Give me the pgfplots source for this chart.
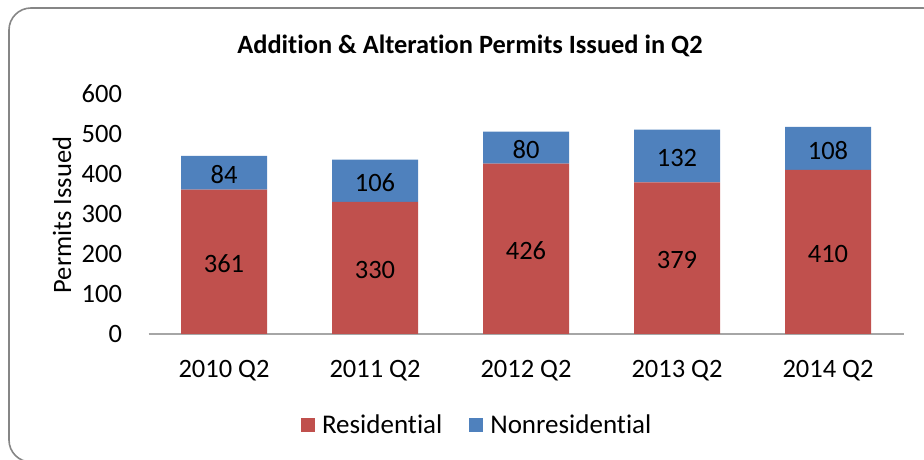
\documentclass[border=0pt]{standalone}
\usepackage{fontspec}
\setmainfont{Carlito}[Ligatures=NoCommon]
\usepackage{pgfplots}
\pgfplotsset{compat=1.18}
\definecolor{resred}{HTML}{C0504D}
\definecolor{nonblue}{HTML}{4F81BD}
\definecolor{framegray}{HTML}{868686}
\definecolor{axgray}{HTML}{A6A6A6}
\newcommand{\bigfont}{\fontsize{26.5}{30}\selectfont}
\begin{document}
\begin{tikzpicture}[x=1pt,y=1pt]
\useasboundingbox (0,0) rectangle (924,460);
\begin{scope}
\clip (0,0) rectangle (924,460);
\draw[framegray, line width=1.6pt, rounded corners=22pt] (9,-2) rectangle (945,452);
\end{scope}
\node[font=\fontsize{26.4}{30}\selectfont\bfseries] at (470,414) {Addition \& Alteration Permits Issued in Q2};
\begin{axis}[
  at={(148.5pt,126pt)}, anchor=south west,
  scale only axis, width=755pt, height=240pt,
  xmin=-0.5, xmax=4.5, ymin=0, ymax=600,
  ybar stacked, bar width=86pt,
  axis lines*=left,
  y axis line style={draw=none},
  x axis line style={axgray, line width=1.2pt, -},
  major tick length=0pt,
  xtick={0,1,2,3,4},
  xticklabels={2010 Q2,2011 Q2,2012 Q2,2013 Q2,2014 Q2},
  ytick={0,100,...,600},
  tick label style={font=\bigfont},
  /pgf/number format/assume math mode=true,
  yticklabel style={xshift=-23pt},
  xticklabel style={yshift=-23pt},
  ylabel={Permits Issued},
  ylabel style={font=\bigfont, at={(axis description cs:-0.1146,0.496)}, anchor=center},
  legend style={draw=none, fill=none, font=\fontsize{27}{30}\selectfont, legend columns=2,
    at={(axis description cs:0.436,-0.379)}, anchor=center,
    /tikz/every even column/.append style={column sep=24pt},
    nodes={inner xsep=3pt}},
  legend image code/.code={\fill[#1] (0pt,-7pt) rectangle (14pt,7pt); \path (18pt,0pt);},
]
\addplot[fill=resred, draw=none] coordinates {(0,361) (1,330) (2,426) (3,379) (4,410)};
\addplot[fill=nonblue, draw=none] coordinates {(0,84) (1,106) (2,80) (3,132) (4,108)};
\legend{Residential,Nonresidential}
\end{axis}
\begin{axis}[
  at={(148.5pt,126pt)}, anchor=south west,
  scale only axis, width=755pt, height=240pt,
  xmin=-0.5, xmax=4.5, ymin=0, ymax=600,
  axis lines=none,
]
\addplot[only marks, mark=none, nodes near coords, point meta=explicit symbolic,
  every node near coord/.append style={anchor=center, font=\bigfont, text=black, yshift=-2pt}]
  coordinates {(0,180.5)[361] (1,165)[330] (2,213)[426] (3,189.5)[379] (4,205)[410]
               (0,403)[84] (1,383)[106] (2,466)[80] (3,445)[132] (4,464)[108]};
\end{axis}
\end{tikzpicture}
\end{document}
